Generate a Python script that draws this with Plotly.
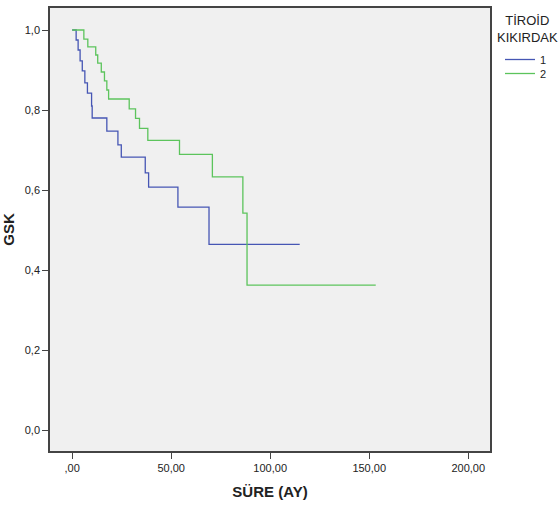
import plotly.graph_objects as go

# Kaplan-Meier style step data (time in months, survival after each step)
g1_time = [0.0, 2.0, 3.0, 4.0, 5.1, 6.4, 7.7, 9.8, 10.1, 17.5, 23.1, 24.8, 36.9, 38.6, 53.4, 69.1, 114.9]
g1_surv = [1.0, 0.975, 0.95, 0.923, 0.898, 0.868, 0.842, 0.81, 0.78, 0.747, 0.713, 0.682, 0.643, 0.607, 0.557, 0.464, 0.464]

g2_time = [0.0, 5.9, 7.9, 11.9, 12.9, 14.7, 16.3, 17.5, 18.4, 28.8, 32.0, 34.0, 38.2, 54.2, 70.8, 86.2, 88.3, 153.3]
g2_surv = [1.0, 0.977, 0.958, 0.9375, 0.917, 0.895, 0.873, 0.85, 0.8275, 0.803, 0.779, 0.754, 0.724, 0.689, 0.633, 0.542, 0.362, 0.362]

x_ticks = [0, 50, 100, 150, 200]
x_ticklabels = [",00", "50,00", "100,00", "150,00", "200,00"]
y_ticks = [0.0, 0.2, 0.4, 0.6, 0.8, 1.0]
y_ticklabels = ["0,0", "0,2", "0,4", "0,6", "0,8", "1,0"]

fig = go.Figure()
fig.add_trace(go.Scatter(x=g1_time, y=g1_surv, mode="lines", line_shape="hv",
                         line=dict(color="#4656b4", width=1.3), name="1", legend="legend"))
fig.add_trace(go.Scatter(x=g2_time, y=g2_surv, mode="lines", line_shape="hv",
                         line=dict(color="#5cc45c", width=1.3), name="2", legend="legend2"))

axis_font = dict(family="Liberation Sans, Arial", size=11, color="#222")
legend_common = dict(
    xref="container", yref="container", xanchor="left", yanchor="top",
    bgcolor="rgba(0,0,0,0)", font=dict(size=11, color="#222"), itemwidth=30,
)
fig.update_layout(
    width=559, height=508,
    margin=dict(l=50, r=69, t=8, b=57, autoexpand=False),
    paper_bgcolor="white",
    plot_bgcolor="#f0f0f0",
    font=dict(family="Liberation Sans, Arial", size=11, color="#222"),
    showlegend=True,
    legend=dict(x=500/559, y=1 - 45/508, **legend_common),
    legend2=dict(x=500/559, y=1 - 59/508, **legend_common),
    xaxis=dict(
        range=[-11.2, 211.0], tickvals=x_ticks, ticktext=x_ticklabels,
        showgrid=False, zeroline=False, showline=True, linecolor="#444", linewidth=1.5,
        mirror=True, ticks="outside", ticklen=6, tickcolor="#444", tickfont=axis_font,
        title=dict(text="<b>SÜRE (AY)</b>", font=dict(size=15, color="#222"), standoff=14),
    ),
    yaxis=dict(
        range=[-0.0525, 1.055], tickvals=y_ticks, ticktext=y_ticklabels,
        showgrid=False, zeroline=False, showline=True, linecolor="#444", linewidth=1.5,
        mirror=True, ticks="outside", ticklen=6, tickcolor="#444", tickfont=axis_font,
        title=dict(text="<b>GSK</b>", font=dict(size=15, color="#222"), standoff=14),
    ),
    annotations=[dict(
        text="TİROİD<br>KIKIRDAK", xref="paper", yref="paper",
        x=(527 - 50) / 440, y=1 - (29 - 8) / 443, xanchor="center", yanchor="middle",
        showarrow=False, align="center", font=dict(size=13, color="#222"),
    )],
)

fig.write_html("out.html")
